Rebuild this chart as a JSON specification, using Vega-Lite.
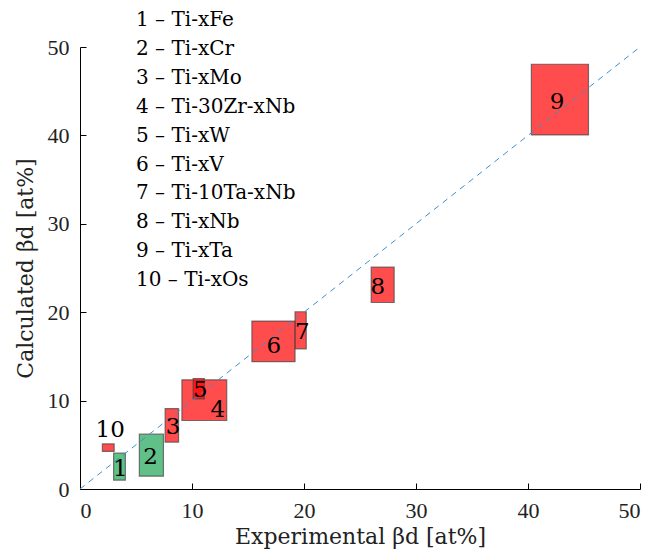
{
  "$schema": "https://vega.github.io/schema/vega-lite/v6.json",
  "width": 560,
  "height": 442,
  "autosize": {"type": "none"},
  "padding": {"left": 80, "top": 47, "right": 32, "bottom": 67},
  "background": "white",
  "config": {
    "view": {"stroke": null},
    "axis": {
      "grid": false,
      "domainColor": "#000000",
      "domainWidth": 1,
      "tickColor": "#000000",
      "tickSize": -6,
      "tickWidth": 1,
      "labelFont": "Liberation Serif",
      "labelFontSize": 22,
      "labelColor": "#222222",
      "titleFont": "DejaVu Serif",
      "titleFontSize": 22,
      "titleFontWeight": "normal",
      "titleColor": "#222222"
    }
  },
  "datasets": {
    "boxes": [
      {"id": "1", "group": "green", "x1": 3.0, "x2": 4.05, "y1": 1.0, "y2": 4.05, "lx": 3.6, "ly": 2.3},
      {"id": "2", "group": "green", "x1": 5.3, "x2": 7.45, "y1": 1.45, "y2": 6.2, "lx": 6.3, "ly": 3.6},
      {"id": "3", "group": "red", "x1": 7.6, "x2": 8.8, "y1": 5.3, "y2": 9.1, "lx": 8.3, "ly": 7.0},
      {"id": "4", "group": "red", "x1": 9.1, "x2": 13.1, "y1": 7.75, "y2": 12.35, "lx": 12.3, "ly": 8.9},
      {"id": "5", "group": "red", "x1": 10.1, "x2": 11.1, "y1": 10.2, "y2": 12.5, "lx": 10.75, "ly": 11.2},
      {"id": "6", "group": "red", "x1": 15.35, "x2": 19.2, "y1": 14.4, "y2": 19.0, "lx": 17.3, "ly": 16.2},
      {"id": "7", "group": "red", "x1": 19.2, "x2": 20.2, "y1": 15.85, "y2": 20.05, "lx": 19.85, "ly": 17.8},
      {"id": "8", "group": "red", "x1": 26.0, "x2": 28.05, "y1": 21.1, "y2": 25.1, "lx": 26.6, "ly": 22.8},
      {"id": "9", "group": "red", "x1": 40.3, "x2": 45.4, "y1": 40.05, "y2": 48.05, "lx": 42.6, "ly": 43.8},
      {"id": "10", "group": "red", "x1": 2.0, "x2": 3.05, "y1": 4.25, "y2": 5.1, "lx": 2.7, "ly": 6.7}
    ],
    "legendText": [
      {"t": "1 – Ti-xFe", "x": 5.0, "y": 53.05},
      {"t": "2 – Ti-xCr", "x": 5.0, "y": 49.78},
      {"t": "3 – Ti-xMo", "x": 5.0, "y": 46.51},
      {"t": "4 – Ti-30Zr-xNb", "x": 5.0, "y": 43.24},
      {"t": "5 – Ti-xW", "x": 5.0, "y": 39.97},
      {"t": "6 – Ti-xV", "x": 5.0, "y": 36.7},
      {"t": "7 – Ti-10Ta-xNb", "x": 5.0, "y": 33.43},
      {"t": "8 – Ti-xNb", "x": 5.0, "y": 30.16},
      {"t": "9 – Ti-xTa", "x": 5.0, "y": 26.89},
      {"t": "10 – Ti-xOs", "x": 5.0, "y": 23.62}
    ],
    "diag": [{"x": 0, "y": 0, "x2": 50, "y2": 50}]
  },
  "layer": [
    {
      "data": {"name": "boxes"},
      "mark": {"type": "rect", "stroke": "#444444", "strokeWidth": 1.2, "strokeOpacity": 0.7},
      "encoding": {
        "x": {"field": "x1", "type": "quantitative", "scale": {"domain": [0, 50], "nice": false},
              "axis": {"values": [0, 10, 20, 30, 40, 50], "title": "Experimental βd [at%]", "labelPadding": 17, "titlePadding": 5}},
        "x2": {"field": "x2"},
        "y": {"field": "y1", "type": "quantitative", "scale": {"domain": [0, 50], "nice": false},
              "axis": {"values": [0, 10, 20, 30, 40, 50], "title": "Calculated βd [at%]", "labelPadding": 17, "titlePadding": 10}},
        "y2": {"field": "y2"},
        "color": {"field": "group", "type": "nominal", "scale": {"domain": ["red", "green"], "range": ["#ff0000", "#0a9e46"]}, "legend": null},
        "fillOpacity": {"field": "group", "type": "nominal", "scale": {"domain": ["red", "green"], "range": [0.7, 0.65]}, "legend": null}
      }
    },
    {
      "data": {"name": "diag"},
      "mark": {"type": "rule", "color": "#3d8fd1", "strokeWidth": 1, "strokeDash": [6, 5]},
      "encoding": {
        "x": {"field": "x", "type": "quantitative"},
        "y": {"field": "y", "type": "quantitative"},
        "x2": {"field": "x2"},
        "y2": {"field": "y2"}
      }
    },
    {
      "data": {"name": "boxes"},
      "mark": {"type": "text", "font": "DejaVu Serif", "fontSize": 23, "color": "#000000", "align": "center", "baseline": "middle"},
      "encoding": {
        "x": {"field": "lx", "type": "quantitative"},
        "y": {"field": "ly", "type": "quantitative"},
        "text": {"field": "id"}
      }
    },
    {
      "data": {"name": "legendText"},
      "mark": {"type": "text", "font": "DejaVu Serif", "fontSize": 20, "color": "#000000", "align": "left", "baseline": "middle"},
      "encoding": {
        "x": {"field": "x", "type": "quantitative"},
        "y": {"field": "y", "type": "quantitative"},
        "text": {"field": "t"}
      }
    }
  ]
}
